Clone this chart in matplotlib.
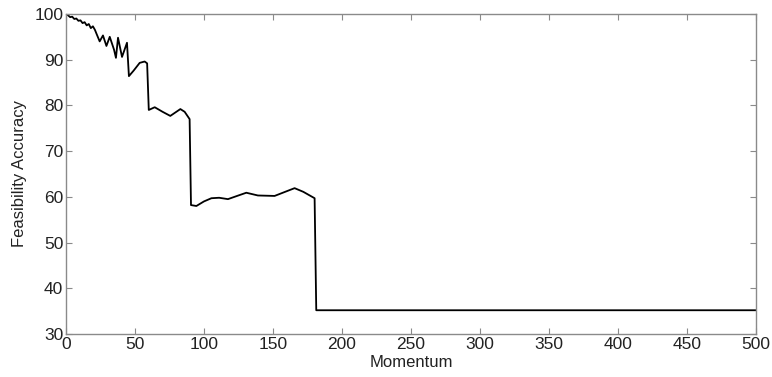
import matplotlib
matplotlib.use("Agg")
import matplotlib.pyplot as plt

plt.rcParams['font.family'] = ['Liberation Sans', 'DejaVu Sans']

# values
momentum = [0, 1.5, 3, 4.5, 6, 7.5, 9, 10.5, 12, 13.5, 15, 16.5, 18, 19.5, 21,
            22.2, 24.4, 26.8, 29.3, 31.7, 34.8, 36.2, 37.7, 40.6, 44.2, 45.6,
            49, 53.4, 57, 58.8, 60.0, 64.3, 70, 75.6, 82.9, 86, 89.6, 90.6,
            94.5, 100, 105.4, 111, 117.4, 124, 130.7, 139.1, 151.2, 158, 165.7,
            172, 180.2, 181.4, 500]
accuracy = [100, 99.7, 99.3, 99.4, 98.9, 99.0, 98.5, 98.6, 98.0, 98.2, 97.5, 97.8,
            96.9, 97.3, 96.5, 95.6, 94.0, 95.3, 93.0, 95.0, 92.2, 90.4, 94.8,
            90.6, 93.7, 86.4, 87.6, 89.3, 89.6, 89.2, 79.0, 79.6, 78.6, 77.7,
            79.2, 78.6, 77.0, 58.2, 58.0, 59.0, 59.7, 59.8, 59.5, 60.2, 60.9,
            60.3, 60.2, 61.0, 61.9, 61.1, 59.7, 35.2, 35.2]

fig = plt.figure(figsize=(7.72, 3.77), dpi=100)
ax = fig.add_axes([0.0855, 0.114, 0.8935, 0.849])

ax.plot(momentum, accuracy, color='black', linewidth=1.3)

ax.set_xlim(0, 500)
ax.set_ylim(30, 100)
ax.set_xticks(range(0, 501, 50))
ax.set_yticks(range(30, 101, 10))
ax.set_xlabel('Momentum', fontsize=12, labelpad=2, color='#222222')
ax.set_ylabel('Feasibility Accuracy', fontsize=12, labelpad=5, color='#222222')

for s in ax.spines.values():
    s.set_color('#8a8a8a')
    s.set_linewidth(1.0)
ax.tick_params(direction='in', length=4, width=0.8, color='#8a8a8a',
               labelsize=12.5, labelcolor='#222222', top=True, right=True, pad=2)

fig.savefig('out.png', dpi=100)
